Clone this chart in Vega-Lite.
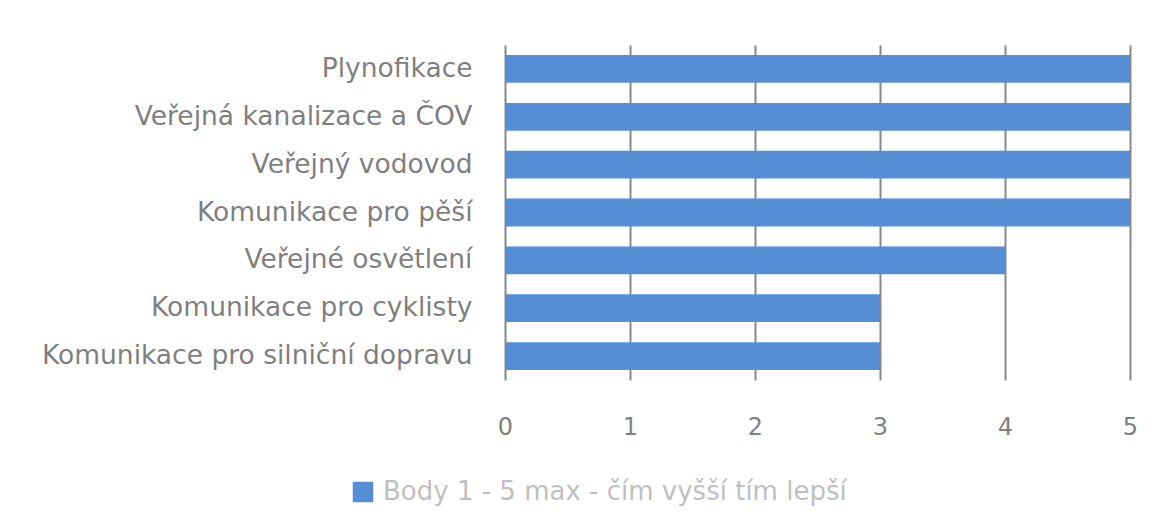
{
  "$schema": "https://vega.github.io/schema/vega-lite/v6.json",
  "width": 625,
  "height": 335,
  "autosize": "none",
  "padding": {"left": 505, "top": 45, "right": 37, "bottom": 146},
  "background": "white",
  "data": {
    "values": [
      {"kategorie": "Plynofikace", "body": 5, "serie": "Body 1 - 5 max - čím vyšší tím lepší"},
      {"kategorie": "Veřejná kanalizace  a ČOV", "body": 5, "serie": "Body 1 - 5 max - čím vyšší tím lepší"},
      {"kategorie": "Veřejný vodovod", "body": 5, "serie": "Body 1 - 5 max - čím vyšší tím lepší"},
      {"kategorie": "Komunikace pro pěší", "body": 5, "serie": "Body 1 - 5 max - čím vyšší tím lepší"},
      {"kategorie": "Veřejné osvětlení", "body": 4, "serie": "Body 1 - 5 max - čím vyšší tím lepší"},
      {"kategorie": "Komunikace pro cyklisty", "body": 3, "serie": "Body 1 - 5 max - čím vyšší tím lepší"},
      {"kategorie": "Komunikace pro silniční dopravu", "body": 3, "serie": "Body 1 - 5 max - čím vyšší tím lepší"}
    ]
  },
  "mark": {"type": "bar"},
  "encoding": {
    "y": {
      "field": "kategorie",
      "type": "nominal",
      "sort": null,
      "scale": {"paddingInner": 0.42, "paddingOuter": 0.21},
      "axis": {
        "title": null,
        "domain": false,
        "ticks": false,
        "grid": false,
        "labelPadding": 33,
        "labelLimit": 600,
        "labelFont": "DejaVu Sans",
        "labelFontSize": 26.5,
        "labelColor": "#7f7f7f"
      }
    },
    "x": {
      "field": "body",
      "type": "quantitative",
      "scale": {"domain": [0, 5], "nice": false},
      "axis": {
        "title": null,
        "values": [0, 1, 2, 3, 4, 5],
        "labelOverlap": false,
        "labelFlush": false,
        "domain": false,
        "ticks": false,
        "grid": true,
        "gridColor": "#888888",
        "gridWidth": 2,
        "labelPadding": 35,
        "labelFont": "DejaVu Sans",
        "labelFontSize": 24,
        "labelColor": "#7f7f7f"
      }
    },
    "color": {
      "field": "serie",
      "type": "nominal",
      "scale": {"range": ["#558ed5"]},
      "legend": {
        "title": null,
        "orient": "none",
        "legendX": -155,
        "legendY": 434,
        "symbolType": "square",
        "symbolSize": 420,
        "symbolStrokeWidth": 0,
        "labelFont": "DejaVu Sans",
        "labelFontSize": 26,
        "labelLimit": 700,
        "labelColor": "#bfbfbf",
        "labelOffset": 7,
        "padding": 0
      }
    }
  },
  "config": {
    "view": {"stroke": null}
  }
}
